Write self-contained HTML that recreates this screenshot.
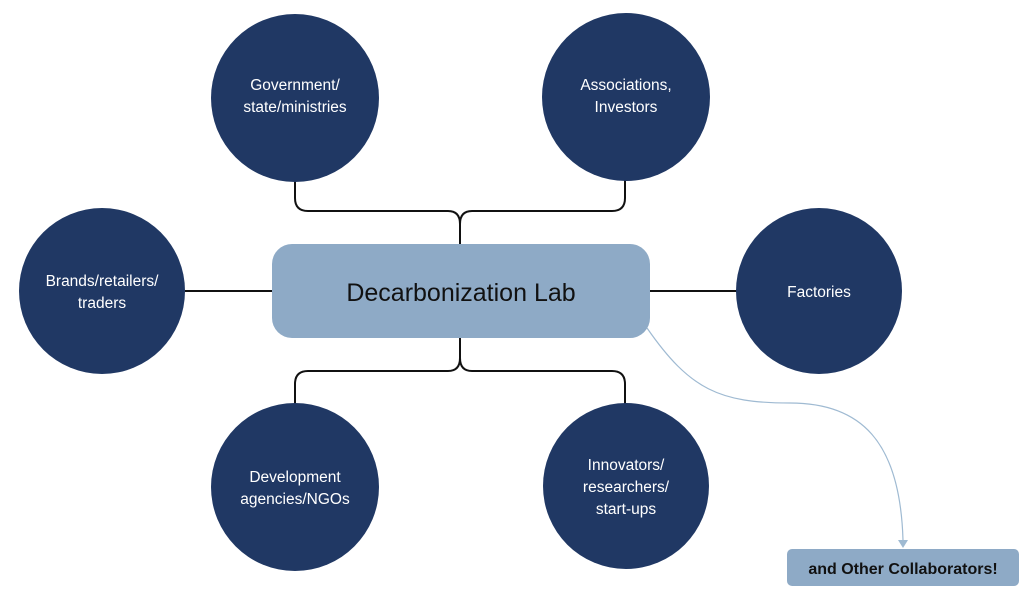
<!DOCTYPE html>
<html><head><style>
body{margin:0;background:#fff;width:1024px;height:589px;overflow:hidden}
svg text{font-family:"Liberation Sans",sans-serif}
</style></head><body>
<svg width="1024" height="589" viewBox="0 0 1024 589">
<g fill="none" stroke="#111" stroke-width="2">
<path d="M295,180 V198 Q295,211 308,211 H448 Q460,211 460,224 V244"/>
<path d="M625,180 V198 Q625,211 612,211 H472 Q460,211 460,224"/>
<path d="M460,338 V358 Q460,371 448,371 H308 Q295,371 295,384 V404"/>
<path d="M460,358 Q460,371 472,371 H612 Q625,371 625,384 V404"/>
<path d="M185,291 H272"/>
<path d="M650,291 H737"/>
</g>
<path d="M647,328 C690,390 720,403 790,403 C860,403 900,440 903,540" fill="none" stroke="#9fbad2" stroke-width="1.2"/>
<polygon points="898,540 908,540 903,548" fill="#9fbad2"/>
<g fill="#203864">
<circle cx="295" cy="98" r="84"/>
<circle cx="626" cy="97" r="84"/>
<circle cx="102" cy="291" r="83"/>
<circle cx="819" cy="291" r="83"/>
<circle cx="295" cy="487" r="84"/>
<circle cx="626" cy="486" r="83"/>
</g>
<rect x="272" y="244" width="378" height="94" rx="20" fill="#8eaac6"/>
<rect x="787" y="549" width="232" height="37" rx="5" fill="#8eaac6"/>
<g fill="#fff" font-size="15.5" text-anchor="middle">
<text x="295" y="90">Government/</text><text x="295" y="112">state/ministries</text>
<text x="626" y="90">Associations,</text><text x="626" y="112">Investors</text>
<text x="102" y="286">Brands/retailers/</text><text x="102" y="308">traders</text>
<text x="819" y="297">Factories</text>
<text x="295" y="482">Development</text><text x="295" y="504">agencies/NGOs</text>
<text x="626" y="470">Innovators/</text><text x="626" y="492">researchers/</text><text x="626" y="514">start-ups</text>
</g>
<text x="461" y="301" font-size="25" text-anchor="middle" fill="#111">Decarbonization Lab</text>
<text x="903" y="574" font-size="16" font-weight="bold" text-anchor="middle" fill="#111">and Other Collaborators!</text>
</svg>
</body></html>
